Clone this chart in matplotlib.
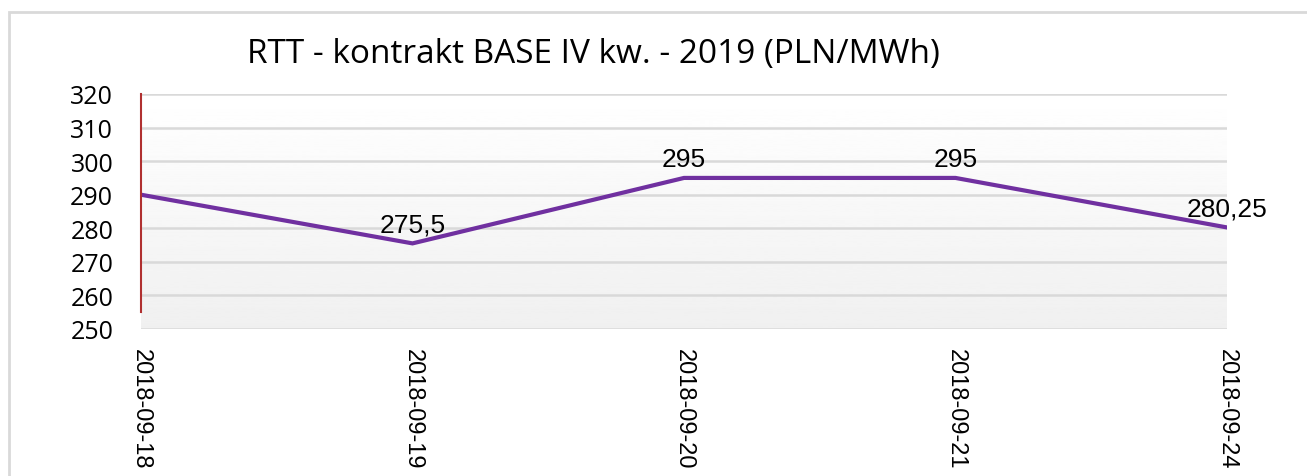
import numpy as np
import matplotlib.pyplot as plt
import matplotlib.transforms as mtransforms
from matplotlib.patches import Rectangle

dates = ["2018-09-18", "2018-09-19", "2018-09-20", "2018-09-21", "2018-09-24"]
prices = [290, 275.5, 295, 295, 280.25]
labels = ["", "275,5", "295", "295", "280,25"]
yticks = [250, 260, 270, 280, 290, 300, 310, 320]

fig = plt.figure(figsize=(13.07, 4.77), dpi=100)

# outer chart border
fig.patches.append(Rectangle((9 / 1307, -0.1), 1.2, 1 - 13 / 477 + 0.1,
                             transform=fig.transFigure, fill=False,
                             edgecolor="#d9d9d9", linewidth=2))

ax = fig.add_axes([141 / 1307, 1 - 330 / 477, (1227 - 141) / 1307, (330 - 95) / 477])
x = np.arange(len(dates))
ax.set_xlim(0, len(dates) - 1)
ax.set_ylim(250, 320)

# gradient background
grad = np.linspace(1.0, 0.94, 256).reshape(-1, 1)
ax.imshow(grad, cmap="gray", vmin=0, vmax=1, aspect="auto",
          extent=[0, len(dates) - 1, 250, 320], origin="upper", zorder=0)

for t in yticks:
    ax.axhline(t, color="#d9d9d9", linewidth=1.8, zorder=1)

ax.plot(x, prices, color="#7030a0", linewidth=3, zorder=3, solid_joinstyle="miter")
ax.plot([0, 0], [255, 320], color="#b03030", linewidth=1.5, zorder=4, clip_on=False)

for xi, yi, lab in zip(x, prices, labels):
    if lab:
        ax.text(xi, yi + 2, lab, ha="center", va="bottom", fontsize=19,
                family="Liberation Sans", zorder=5)

for s in ax.spines.values():
    s.set_visible(False)
ax.set_yticks(yticks)
ax.set_yticklabels([str(t) for t in yticks], family="Open Sans", fontsize=18)
ax.set_xticks(x)
ax.set_xticklabels(dates, rotation=270, family="Liberation Sans", fontsize=17,
                   ha="center", va="top")
shift = mtransforms.ScaledTranslation(4 / 100, 0, fig.dpi_scale_trans)
for lab in ax.get_xticklabels():
    lab.set_transform(lab.get_transform() + shift)
ax.tick_params(length=0, pad=14)
ax.tick_params(axis="y", pad=20)

fig.text(593 / 1307, 1 - 55 / 477, "RTT - kontrakt BASE IV kw. - 2019 (PLN/MWh)",
         ha="center", va="center", fontsize=24, family="Open Sans")

fig.savefig("out.png", dpi=100)
